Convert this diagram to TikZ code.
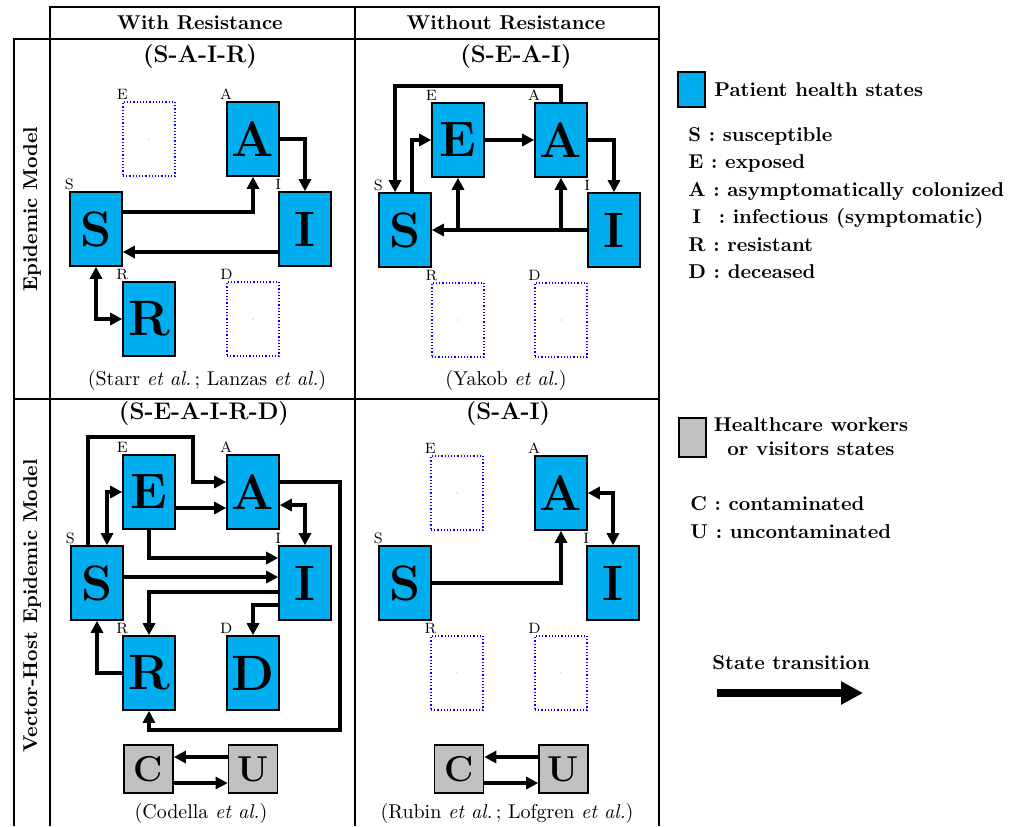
\documentclass[tikz,border=0pt]{standalone}
\usetikzlibrary{arrows.meta}
\definecolor{statecyan}{RGB}{0,174,239}
\definecolor{workergray}{RGB}{192,192,192}
\tikzset{
  state/.style={rectangle, draw=black, line width=0.8pt, fill=statecyan,
    minimum width=26pt, minimum height=37pt, inner sep=0pt, font=\Huge\bfseries},
  worker/.style={rectangle, draw=black, line width=0.8pt, fill=workergray,
    minimum width=24.5pt, minimum height=24pt, inner sep=0pt,
    font=\fontsize{18}{20}\selectfont\bfseries},
  slot/.style={rectangle, draw=blue, densely dotted, line width=0.6pt,
    minimum width=26pt, minimum height=37pt, inner sep=0pt},
  tag/.style={font=\fontsize{7.5}{8}\selectfont, inner sep=0.6pt, anchor=south},
  flow/.style={line width=1.6pt, -{Triangle[length=6pt,width=6pt]}},
  flows/.style={line width=1.6pt, {Triangle[length=6pt,width=6pt]}-{Triangle[length=6pt,width=6pt]}},
  tableline/.style={line width=1pt},
  heading/.style={font=\bfseries},
  modelname/.style={font=\large\bfseries},
  source/.style={font=\normalfont},
  legendtext/.style={font=\bfseries, anchor=base west, inner sep=0pt},
}
% a filled state box with its small tag, and an empty placeholder slot
\newcommand\hstate[3]{%
  \node[state] (#1) at (#2) {#3};
  \node[tag] at (#1.north west) {#3};}
\newcommand\hslot[3]{%
  \node[slot] (#1) at (#2) {};
  \node[tag] at (#1.north west) {#3};
  \fill[gray!70] (#1.center) circle (0.35pt);}
\begin{document}
\begin{tikzpicture}[x=0.5pt,y=-0.5pt]
\useasboundingbox (0,0) rectangle (1020,826);

% ---- table frame ----
\draw[tableline] (50,826) -- (50,7) -- (659,7) -- (659,826);
\draw[tableline] (14,826) -- (14,39) -- (659,39);
\draw[tableline] (355,826) -- (355,7);
\draw[tableline] (14,399) -- (659,399);
\node[heading] at (200,23) {With Resistance};
\node[heading] at (506,23) {Without Resistance};
\node[heading, rotate=90] at (32,209) {Epidemic Model};
\node[heading, rotate=90] at (32,606) {Vector-Host Epidemic Model};

% ---- epidemic model, with resistance ----
\node[modelname] at (200,57) {(S-A-I-R)};
\hstate{tlS}{96,229}{S}
\hstate{tlA}{253,139}{A}
\hstate{tlI}{305,229}{I}
\hstate{tlR}{149,319}{R}
\hslot{tlE}{149,139}{E}
\hslot{tlD}{253,319}{D}
\draw[flow] (tlS.east |- 0,212) -| (tlA.south);
\draw[flow] (tlA.east) -| (tlI.north);
\draw[flow] (tlI.west |- 0,252) -- (tlS.east |- 0,252);
\draw[flows] (tlS.south) |- (tlR.west);
\node[source] at (207,380) {(Starr \textit{et al.}\,; Lanzas \textit{et al.})};

% ---- epidemic model, without resistance ----
\node[modelname] at (516,57) {(S-E-A-I)};
\hstate{trS}{405,230}{S}
\hstate{trE}{458,140}{E}
\hstate{trA}{561,140}{A}
\hstate{trI}{614,230}{I}
\hslot{trR}{458,320}{R}
\hslot{trD}{561,320}{D}
\draw[flow] (trA.north) |- (395,86) -- (trS.north -| 395,0);
\draw[flow] (trS.north -| 412,0) |- (trE.west);
\draw[flow] (trE.east) -- (trA.west);
\draw[flow] (trA.east) -| (trI.north);
\draw[flow] (trI.west) -- (trS.east);
\draw[flow] (trI.west) -| (trE.south);
\draw[flow] (trI.west) -| (trA.south);
\node[source] at (506,380) {(Yakob \textit{et al.})};

% ---- vector-host model, with resistance ----
\node[modelname] at (204,413) {(S-E-A-I-R-D)};
\hstate{blS}{97,583}{S}
\hstate{blE}{149,492}{E}
\hstate{blA}{253,492}{A}
\hstate{blI}{305,583}{I}
\hstate{blR}{149,673}{R}
\hstate{blD}{253,673}{D}
\draw[flow] (blS.north -| 88,0) |- (193,437) |- (blA.west |- 0,482);
\draw[flows] (blS.north -| 107,0) |- (blE.west);
\draw[flow] (blE.east |- 0,508) -- (blA.west |- 0,508);
\draw[flows] (blA.east |- 0,505) -| (blI.north);
\draw[flow] (blE.south) |- (blI.west |- 0,558);
\draw[flow] (blS.east |- 0,577) -- (blI.west |- 0,577);
\draw[flow] (blI.west |- 0,592) -| (blR.north);
\draw[flow] (blI.west |- 0,605) -| (blD.north);
\draw[flow] (blR.west) -| (blS.south);
\draw[flow] (blA.east |- 0,482) -| (340,730) -| (blR.south);
\node[worker] (blC) at (148.5,769) {C};
\node[worker] (blU) at (253,769) {U};
\draw[flow] (blU.west |- 0,757) -- (blC.east |- 0,757);
\draw[flow] (blC.east |- 0,783) -- (blU.west |- 0,783);
\node[source] at (201,813) {(Codella \textit{et al.})};

% ---- vector-host model, without resistance ----
\node[modelname] at (508,413) {(S-A-I)};
\hstate{brS}{405,583}{S}
\hstate{brA}{561,493}{A}
\hstate{brI}{613,583}{I}
\hslot{brE}{457,493}{E}
\hslot{brR}{457,673}{R}
\hslot{brD}{561,673}{D}
\draw[flow] (brS.east) -| (brA.south);
\draw[flows] (brA.east) -| (brI.north);
\node[worker] (brC) at (459,769) {C};
\node[worker] (brU) at (563.5,769) {U};
\draw[flow] (brU.west |- 0,757) -- (brC.east |- 0,757);
\draw[flow] (brC.east |- 0,783) -- (brU.west |- 0,783);
\node[source] at (507,813) {(Rubin \textit{et al.}\,; Lofgren \textit{et al.})};

% ---- legend ----
\node[rectangle, draw=black, line width=0.8pt, fill=statecyan,
  minimum width=13.5pt, minimum height=17.5pt, inner sep=0pt] (keyP) at (691.5,89.5) {};
\node[legendtext] at (714,96) {Patient health states};
\node[legendtext] at (688,141) {S : susceptible};
\node[legendtext] at (688,168.5) {E : exposed};
\node[legendtext] at (688,196) {A : asymptomatically colonized};
\node[legendtext] at (688,223.5) {\hspace{2pt}I\hspace{5pt} : infectious (symptomatic)};
\node[legendtext] at (688,251) {R : resistant};
\node[legendtext] at (688,278.5) {D : deceased};

\node[rectangle, draw=black, line width=0.8pt, fill=workergray,
  minimum width=13.5pt, minimum height=19.5pt, inner sep=0pt] (keyW) at (692.5,437.5) {};
\node[align=center, inner sep=0pt, font=\fontsize{10}{12}\selectfont\bfseries]
  at (811,437) {Healthcare workers\\or visitors states};
\node[legendtext] at (690,510) {C : contaminated};
\node[legendtext] at (690,538) {U : uncontaminated};

\node[legendtext] at (712,669) {State transition};
\coordinate (keyT0) at (717,693);
\coordinate (keyT1) at (863,693);
\draw[line width=4pt, -{Triangle[length=11pt,width=11pt]}] (keyT0) -- (keyT1);
\end{tikzpicture}
\end{document}
